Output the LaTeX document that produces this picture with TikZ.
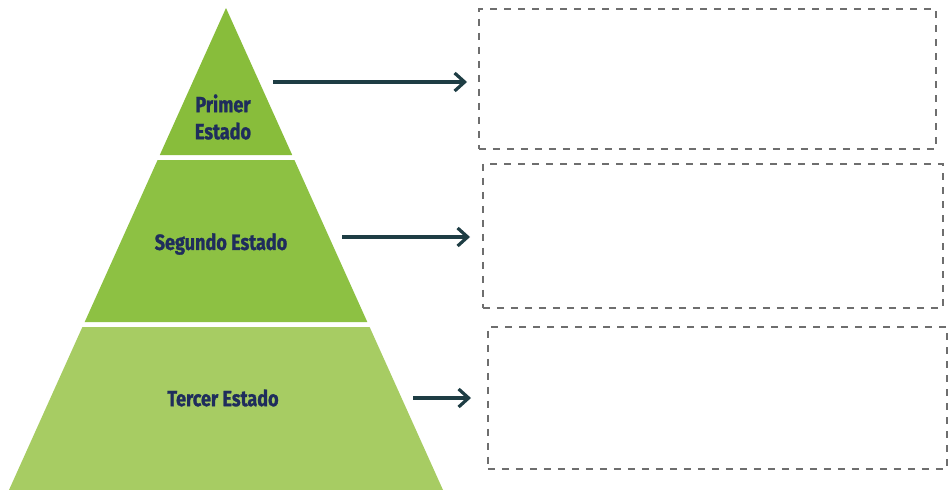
\documentclass[tikz,border=0pt]{standalone}
\usepackage{fontspec}
\newfontfamily\labfont{Fira Sans}[FakeStretch=0.82, BoldFeatures={FakeBold=1.2}]
\usetikzlibrary{arrows.meta}
\definecolor{gtop}{HTML}{88BD3B}
\definecolor{gmid}{HTML}{8DC143}
\definecolor{gbot}{HTML}{A7CC63}
\definecolor{navy}{HTML}{1F2D5C}
\definecolor{teal}{HTML}{1E3D44}
\definecolor{dashgray}{HTML}{6E6E6E}
\tikzset{
  band/.style={draw=none},
  label/.style={font=\labfont\bfseries\fontsize{22}{27}\selectfont, text=navy, align=center, inner sep=0pt},
  answerbox/.style={draw=dashgray, line width=1.6pt, dash pattern=on 7pt off 7pt, anchor=north west, inner sep=0pt},
  pointer/.style={draw=teal, line width=3.2pt, -{Straight Barb[length=10pt,width=18pt,line width=3.2pt]}},
}
\begin{document}
\begin{tikzpicture}[x=1pt,y=-1pt]
\useasboundingbox[fill=white] (0,0) rectangle (948,490);
% pyramid bands
\fill[gtop, band] (226,8) -- (292.2,155) -- (159.8,155) -- cycle;
\fill[gmid, band] (157.6,160) -- (294.4,160) -- (367.3,322) -- (84.7,322) -- cycle;
\fill[gbot, band] (82.4,327) -- (369.6,327) -- (443,490) -- (9,490) -- cycle;
% labels
\node[label] (primer) at (223,117) {Primer\\Estado};
\node[label] (segundo) at (221,244) {Segundo Estado};
\node[label] (tercer) at (223,398) {Tercer Estado};
% answer boxes
\node[answerbox, minimum width=457pt, minimum height=140pt] (box1) at (478,8) {};
\node[answerbox, minimum width=460pt, minimum height=144pt] (box2) at (482,163) {};
\node[answerbox, minimum width=459pt, minimum height=142pt] (box3) at (487,326) {};
% arrow start points
\coordinate (s1) at (273,82);
\coordinate (s2) at (342,237);
\coordinate (s3) at (413,398);
\draw[pointer, shorten >=11pt] (s1) -- (s1 -| box1.west);
\draw[pointer, shorten >=12pt] (s2) -- (s2 -| box2.west);
\draw[pointer, shorten >=16pt] (s3) -- (s3 -| box3.west);
\end{tikzpicture}
\end{document}
